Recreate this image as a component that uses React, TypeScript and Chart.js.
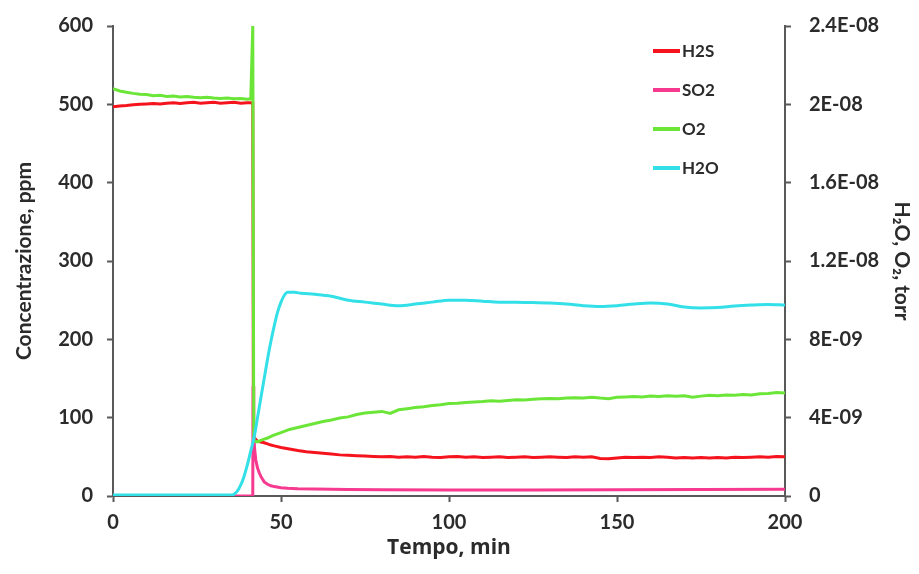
import React, { useEffect, useRef } from "react";
import { Chart, registerables } from "chart.js";
Chart.register(...registerables);

// ---- Axis ticks ----
const X_TICKS = [0, 50, 100, 150, 200];
const LEFT_TICKS = [0, 100, 200, 300, 400, 500, 600];
const RIGHT_TICKS = [0, 4e-9, 8e-9, 1.2e-8, 1.6e-8, 2e-8, 2.4e-8];
const RIGHT_TICK_LABELS = ["0", "4E-09", "8E-09", "1.2E-08", "1.6E-08", "2E-08", "2.4E-08"];

const SERIES_LABELS = ["H2S", "SO2", "O2", "H2O"];

// ---- H2S (ppm, left axis) ----
const H2S_T = [
  0, 2, 4, 6, 8, 10, 12, 14, 16, 18, 20, 22, 24, 26, 28, 30, 32, 34, 36, 38, 40, 41, 41.6, 41.8,
  42.5, 43, 44, 45, 46, 47, 48, 50, 52.5, 55, 57.5, 60, 62.5, 65, 67.5, 70, 72.5, 75, 77.5,
  80, 82.5, 85, 87.5, 90, 92.5, 95, 97.5, 100, 102.5, 105, 107.5, 110, 112.5, 115, 117.5, 120,
  122.5, 125, 127.5, 130, 132.5, 135, 137.5, 140, 142.5, 145, 147.5, 150, 152.5, 155, 157.5, 160,
  162.5, 165, 167.5, 170, 172.5, 175, 177.5, 180, 182.5, 185, 187.5, 190, 192.5, 195, 197.5, 200,
];
const H2S_PPM = [
  497, 498, 498.5, 499.5, 500, 500.5, 501, 500.5, 501.5, 502, 501, 502, 502.5, 501.5, 502, 502.5, 501.5, 502, 502.5, 501.5, 502, 502, 501.5, 76,
  72, 70, 69, 68, 66.5, 65, 64, 62, 60, 58, 56.5, 55.5, 54.5, 53.5, 52.5, 52, 51.5, 51, 50.5,
  50, 50.5, 49.5, 50, 49.5, 50.5, 49.5, 49, 50, 50.5, 49.5, 50, 49, 49.5, 50, 49, 49.5,
  50, 49, 49.5, 50, 49.5, 49, 50, 49.5, 50, 48, 47.5, 48.5, 49.5, 49, 49.5, 49,
  50, 49.5, 48.5, 49, 48.5, 49, 48.5, 49, 48.5, 49.5, 49, 49.5, 50, 49.5, 50.5, 50,
];

// ---- SO2 (ppm, left axis) ----
const SO2_T = [0, 41.6, 41.7, 41.9, 42.1, 42.5, 43, 43.5, 44, 45, 46, 47, 48, 50, 52, 55, 60, 70, 80, 100, 125, 150, 175, 200];
const SO2_PPM = [0, 0, 140, 95, 62, 46, 36, 30, 25, 18, 15, 13, 12, 10.5, 9.8, 9.2, 8.8, 8.3, 8, 7.8, 7.8, 7.9, 8.2, 8.5];

// ---- O2 (torr, right axis) ----
const O2_T = [
  0, 2, 4, 6, 8, 10, 12, 14, 16, 18, 20, 22, 24, 26, 28, 30, 32, 34, 36, 38, 40, 41, 41.6, 41.9,
  42.2, 43, 44, 45, 46, 47.5,
  50, 52.5, 55, 57.5, 60, 62.5, 65, 67.5, 70, 72.5, 75, 77.5, 80, 82.5, 85, 87.5, 90, 92.5, 95, 97.5,
  100, 102.5, 105, 107.5, 110, 112.5, 115, 117.5, 120, 122.5, 125, 127.5, 130, 132.5, 135, 137.5,
  140, 142.5, 145, 147.5, 150, 152.5, 155, 157.5, 160, 162.5, 165, 167.5, 170, 172.5, 175, 177.5,
  180, 182.5, 185, 187.5, 190, 192.5, 195, 197.5, 200,
];
const O2_TORR = [
  2.08e-8, 2.068e-8, 2.062e-8, 2.056e-8, 2.052e-8, 2.05e-8, 2.044e-8, 2.046e-8, 2.04e-8, 2.042e-8, 2.038e-8, 2.04e-8,
  2.036e-8, 2.034e-8, 2.036e-8, 2.032e-8, 2.03e-8, 2.032e-8, 2.028e-8, 2.03e-8, 2.026e-8, 2.028e-8, 2.4e-8, 2.88e-9,
  2.8e-9, 2.76e-9, 2.84e-9, 2.9e-9, 2.96e-9, 3.08e-9,
  3.24e-9, 3.4e-9, 3.5e-9, 3.6e-9, 3.7e-9, 3.8e-9, 3.88e-9, 3.98e-9, 4.04e-9, 4.16e-9, 4.24e-9, 4.28e-9, 4.32e-9, 4.22e-9,
  4.4e-9, 4.46e-9, 4.52e-9, 4.56e-9, 4.62e-9, 4.66e-9,
  4.72e-9, 4.74e-9, 4.78e-9, 4.8e-9, 4.82e-9, 4.86e-9, 4.84e-9, 4.88e-9, 4.92e-9, 4.9e-9, 4.94e-9, 4.96e-9, 4.98e-9, 4.96e-9,
  5.0e-9, 5.02e-9,
  5.0e-9, 5.04e-9, 5.0e-9, 4.97e-9, 5.04e-9, 5.06e-9, 5.08e-9, 5.06e-9, 5.1e-9, 5.08e-9, 5.12e-9, 5.1e-9, 5.12e-9, 5.04e-9,
  5.1e-9, 5.14e-9,
  5.12e-9, 5.16e-9, 5.14e-9, 5.18e-9, 5.16e-9, 5.22e-9, 5.24e-9, 5.28e-9, 5.26e-9,
];

// ---- H2O (torr, right axis) ----
const H2O_T = [
  0, 10, 20, 30, 35, 36, 37, 38, 39, 40, 41, 42, 43, 44, 45, 46, 47, 48, 49, 50, 51, 52, 54, 56,
  60, 65, 70, 75, 80, 85, 90, 95, 100, 105, 110, 115, 120, 125, 130, 135, 140, 145, 150, 155, 160,
  165, 170, 175, 180, 185, 190, 195, 200,
];
const H2O_TORR = [
  5e-11, 5e-11, 5e-11, 5e-11, 5e-11, 9e-11, 2.5e-10, 5.5e-10, 1.0e-9, 1.6e-9, 2.3e-9, 3.0e-9, 4.0e-9, 5.0e-9, 6.0e-9, 7.0e-9,
  7.9e-9, 8.7e-9, 9.4e-9, 9.9e-9, 1.025e-8, 1.04e-8, 1.04e-8, 1.035e-8,
  1.03e-8, 1.02e-8, 1.0e-8, 9.9e-9, 9.8e-9, 9.72e-9, 9.8e-9, 9.9e-9, 1.0e-8, 1.0e-8, 9.95e-9, 9.9e-9, 9.9e-9,
  9.88e-9, 9.85e-9, 9.8e-9, 9.72e-9, 9.68e-9, 9.72e-9, 9.8e-9, 9.85e-9, 9.8e-9, 9.65e-9, 9.6e-9, 9.62e-9,
  9.7e-9, 9.75e-9, 9.78e-9, 9.75e-9,
];

const COLORS = ["#f5141e", "#f53a8f", "#6be638", "#33e0e8"];
const FONT = "Lato, 'Open Sans', sans-serif";
const WIDE_FONT = "'Open Sans', Lato, sans-serif";
const TEXT = "#2b2b2b";
const AXIS = "#595959";

const pts = (t: number[], v: number[]) => t.map((x, i) => ({ x, y: v[i] }));

const insideLegend = {
  id: "insideLegend",
  afterDraw(chart: any) {
    const { ctx, chartArea } = chart;
    ctx.save();
    chart.data.datasets.forEach((ds: any, i: number) => {
      const y = chartArea.top + 25 + i * 39;
      const x0 = chartArea.right - 132;
      ctx.strokeStyle = ds.borderColor;
      ctx.lineWidth = 4;
      ctx.beginPath();
      ctx.moveTo(x0, y);
      ctx.lineTo(x0 + 27, y);
      ctx.stroke();
      ctx.fillStyle = TEXT;
      ctx.font = `bold 17px ${FONT}`;
      ctx.textAlign = "left";
      ctx.textBaseline = "middle";
      ctx.fillText(ds.label, x0 + 29, y + 1);
    });
    ctx.restore();
  },
};

export default function App() {
  const ref = useRef<HTMLCanvasElement | null>(null);
  useEffect(() => {
    document.body.style.margin = "0";
    const tickFont = { family: FONT, size: 20, weight: "bold" as const };
    const titleFont = { family: FONT, size: 21, weight: "bold" as const };
    const xTitleFont = { family: WIDE_FONT, size: 21, weight: "bold" as const };
    const gridCfg = {
      display: true,
      drawOnChartArea: false,
      drawTicks: true,
      tickLength: 6,
      tickColor: AXIS,
      tickWidth: 2,
    };
    const borderCfg = { display: true, color: AXIS, width: 2 };
    const fitV = (w: number) => (s: any) => {
      s.width = w;
      s.paddingTop = 0;
      s.paddingBottom = 0;
    };
    const chart = new Chart(ref.current as HTMLCanvasElement, {
      type: "line",
      data: {
        datasets: [
          { label: SERIES_LABELS[0], data: pts(H2S_T, H2S_PPM), yAxisID: "y", borderColor: COLORS[0], backgroundColor: COLORS[0], order: 4 },
          { label: SERIES_LABELS[1], data: pts(SO2_T, SO2_PPM), yAxisID: "y", borderColor: COLORS[1], backgroundColor: COLORS[1], order: 3 },
          { label: SERIES_LABELS[2], data: pts(O2_T, O2_TORR), yAxisID: "y1", borderColor: COLORS[2], backgroundColor: COLORS[2], order: 2 },
          { label: SERIES_LABELS[3], data: pts(H2O_T, H2O_TORR), yAxisID: "y1", borderColor: COLORS[3], backgroundColor: COLORS[3], order: 1, cubicInterpolationMode: "monotone" },
        ],
      },
      options: {
        responsive: false,
        animation: false,
        layout: { padding: { top: 26, left: 0, right: 0, bottom: 0 } },
        elements: { point: { radius: 0 }, line: { borderWidth: 3, tension: 0 } },
        plugins: { legend: { display: false }, tooltip: { enabled: false } },
        scales: {
          x: {
            type: "linear",
            min: 0,
            max: 200,
            afterBuildTicks: (s: any) => { s.ticks = X_TICKS.map((value) => ({ value })); },
            afterFit: (s: any) => { s.height = 78; },
            grid: gridCfg,
            border: borderCfg,
            ticks: { font: tickFont, color: TEXT, padding: 9, maxRotation: 0 },
            title: { display: true, text: "Tempo, min", font: xTitleFont, color: TEXT, padding: { top: 0, bottom: 13 } },
          },
          y: {
            position: "left",
            min: 0,
            max: 600,
            afterBuildTicks: (s: any) => { s.ticks = LEFT_TICKS.map((value) => ({ value })); },
            afterFit: fitV(113),
            grid: gridCfg,
            border: borderCfg,
            ticks: { font: tickFont, color: TEXT, padding: 14 },
            title: { display: true, text: "Concentrazione, ppm", font: titleFont, color: TEXT, padding: { top: 12, bottom: 0 } },
          },
          y1: {
            position: "right",
            min: 0,
            max: 2.4e-8,
            afterBuildTicks: (s: any) => { s.ticks = RIGHT_TICKS.map((value) => ({ value })); },
            afterFit: fitV(134),
            grid: gridCfg,
            border: borderCfg,
            ticks: {
              font: tickFont,
              color: TEXT,
              padding: 18,
              callback: (v: any) => {
                const i = RIGHT_TICKS.findIndex((r) => Math.abs(r - Number(v)) < 1e-12);
                return i >= 0 ? RIGHT_TICK_LABELS[i] : "";
              },
            },
            title: { display: true, text: "H\u2082O, O\u2082, torr", font: titleFont, color: TEXT, padding: { top: 5, bottom: 0 } },
          },
        },
      },
      plugins: [insideLegend],
    } as any);
    return () => chart.destroy();
  }, []);
  return (
    <div style={{ width: 919, height: 574, background: "#ffffff" }}>
      <canvas ref={ref} width={919} height={574} style={{ display: "block" }} />
    </div>
  );
}
